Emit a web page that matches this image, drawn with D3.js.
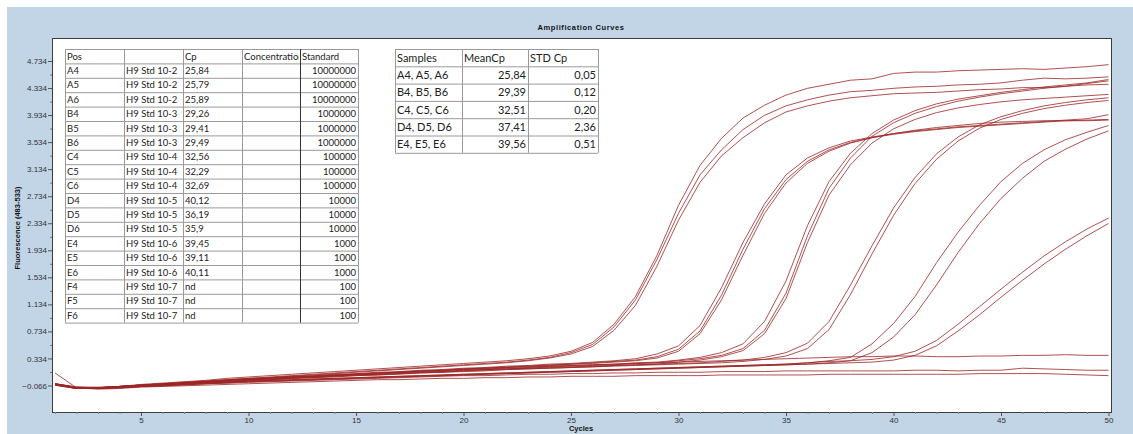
<!DOCTYPE html>
<html>
<head>
<meta charset="utf-8">
<script src="https://cdn.jsdelivr.net/npm/d3@7"></script>
<style>
  body { margin: 0; background: #ffffff; }
  svg { display: block; }
</style>
</head>
<body>
<svg id="chart" width="1133" height="434"></svg>
<script>
// ---- Data -------------------------------------------------------------
const cycles = d3.range(1, 51);
const xTickValues = [5, 10, 15, 20, 25, 30, 35, 40, 45, 50];
const yTickValues = [-0.066, 0.334, 0.734, 1.134, 1.534, 1.934, 2.334, 2.734, 3.134, 3.534, 3.934, 4.334, 4.734];

// Fluorescence (483-533) per cycle, one array per well
const wellA4 = [-0.04,-0.09,-0.10,-0.08,-0.06,-0.04,-0.02,0.00,0.02,0.04, 0.06,0.08,0.10,0.12,0.14,0.16,0.18,0.20,0.22,0.24, 0.26,0.28,0.31,0.35,0.42,0.54,0.80,1.20,1.80,2.48, 3.05,3.42,3.72,3.93,4.07,4.16,4.23,4.28,4.30,4.33, 4.35,4.36,4.38,4.39,4.41,4.45,4.48,4.47,4.48,4.50];
const wellA5 = [-0.05,-0.10,-0.10,-0.08,-0.05,-0.03,-0.01,0.01,0.04,0.06, 0.08,0.10,0.12,0.14,0.16,0.18,0.20,0.22,0.24,0.26, 0.28,0.30,0.33,0.37,0.44,0.57,0.84,1.25,1.86,2.60, 3.19,3.59,3.89,4.08,4.23,4.33,4.39,4.45,4.47,4.55, 4.57,4.57,4.59,4.60,4.61,4.62,4.61,4.63,4.65,4.68];
const wellA6 = [-0.05,-0.10,-0.11,-0.09,-0.07,-0.05,-0.03,-0.01,0.01,0.03, 0.05,0.07,0.09,0.11,0.13,0.15,0.17,0.19,0.21,0.23, 0.25,0.27,0.30,0.34,0.40,0.51,0.75,1.12,1.70,2.38, 2.94,3.33,3.60,3.82,3.98,4.07,4.14,4.19,4.22,4.25, 4.26,4.27,4.29,4.31,4.32,4.34,4.34,4.36,4.38,4.39];
const wellB4 = [-0.04,-0.09,-0.09,-0.08,-0.06,-0.04,-0.02,0.00,0.02,0.04, 0.05,0.07,0.08,0.10,0.11,0.13,0.14,0.16,0.17,0.19, 0.20,0.22,0.23,0.25,0.26,0.28,0.30,0.33,0.40,0.52, 0.82,1.38,2.05,2.62,3.05,3.30,3.45,3.55,3.61,3.66, 3.70,3.73,3.76,3.78,3.80,3.82,3.84,3.86,3.88,3.94];
const wellB5 = [-0.05,-0.10,-0.10,-0.08,-0.06,-0.05,-0.03,-0.01,0.01,0.03, 0.04,0.06,0.07,0.09,0.10,0.12,0.13,0.15,0.16,0.18, 0.19,0.21,0.22,0.24,0.25,0.27,0.29,0.31,0.36,0.47, 0.74,1.27,1.95,2.55,2.98,3.25,3.42,3.53,3.60,3.65, 3.69,3.72,3.75,3.77,3.79,3.81,3.83,3.85,3.86,3.87];
const wellB6 = [-0.04,-0.10,-0.10,-0.09,-0.07,-0.05,-0.03,-0.01,0.01,0.02, 0.04,0.05,0.07,0.08,0.10,0.11,0.13,0.14,0.16,0.17, 0.19,0.20,0.22,0.23,0.25,0.26,0.28,0.30,0.34,0.44, 0.70,1.20,1.86,2.48,2.93,3.22,3.40,3.52,3.60,3.66, 3.71,3.75,3.78,3.81,3.83,3.84,3.85,3.85,3.85,3.86];
const wellC4 = [-0.05,-0.10,-0.10,-0.08,-0.06,-0.05,-0.03,-0.02,0.00,0.02, 0.03,0.05,0.06,0.08,0.09,0.10,0.12,0.13,0.14,0.16, 0.17,0.18,0.19,0.21,0.22,0.23,0.24,0.26,0.27,0.30, 0.33,0.38,0.48,0.75,1.30,2.15,2.85,3.30,3.62,3.82, 3.96,4.06,4.14,4.20,4.25,4.29,4.33,4.36,4.40,4.44];
const wellC5 = [-0.04,-0.09,-0.10,-0.08,-0.06,-0.04,-0.03,-0.01,0.01,0.03, 0.04,0.06,0.07,0.09,0.10,0.11,0.13,0.14,0.15,0.17, 0.18,0.19,0.20,0.22,0.23,0.24,0.25,0.27,0.28,0.31, 0.35,0.42,0.55,0.88,1.48,2.30,2.95,3.37,3.66,3.86, 4.00,4.10,4.17,4.22,4.27,4.31,4.35,4.38,4.41,4.46];
const wellC6 = [-0.05,-0.11,-0.11,-0.09,-0.07,-0.05,-0.04,-0.02,-0.01,0.01, 0.02,0.04,0.05,0.06,0.08,0.09,0.10,0.12,0.13,0.14, 0.15,0.17,0.18,0.19,0.20,0.21,0.23,0.24,0.25,0.28, 0.31,0.36,0.45,0.70,1.22,2.05,2.75,3.20,3.52,3.73, 3.87,3.97,4.04,4.09,4.13,4.16,4.18,4.20,4.22,4.24];
const wellD4 = [-0.06,-0.11,-0.11,-0.10,-0.08,-0.07,-0.05,-0.04,-0.03,-0.01, 0.00,0.01,0.02,0.03,0.04,0.05,0.06,0.07,0.08,0.09, 0.10,0.11,0.12,0.13,0.14,0.15,0.16,0.17,0.18,0.19, 0.20,0.21,0.22,0.23,0.24,0.25,0.26,0.27,0.28,0.31, 0.38,0.52,0.74,0.98,1.24,1.49,1.73,1.95,2.15,2.33];
const wellD5 = [-0.05,-0.10,-0.10,-0.09,-0.07,-0.06,-0.04,-0.02,-0.01,0.01, 0.02,0.04,0.05,0.07,0.08,0.09,0.11,0.12,0.13,0.15, 0.16,0.17,0.18,0.19,0.20,0.21,0.22,0.23,0.24,0.25, 0.26,0.27,0.29,0.32,0.37,0.48,0.76,1.28,1.88,2.45, 2.92,3.28,3.55,3.74,3.87,3.96,4.03,4.08,4.12,4.15];
const wellD6 = [-0.04,-0.10,-0.10,-0.08,-0.07,-0.05,-0.03,-0.02,0.00,0.02, 0.03,0.04,0.06,0.07,0.09,0.10,0.11,0.13,0.14,0.15, 0.17,0.18,0.19,0.20,0.21,0.22,0.23,0.24,0.25,0.26, 0.27,0.29,0.31,0.35,0.42,0.56,0.88,1.42,2.00,2.56, 3.01,3.36,3.61,3.79,3.91,4.00,4.07,4.12,4.16,4.19];
const wellE4 = [-0.06,-0.11,-0.11,-0.10,-0.08,-0.07,-0.05,-0.04,-0.02,-0.01, 0.00,0.01,0.02,0.03,0.04,0.05,0.06,0.07,0.08,0.09, 0.10,0.11,0.12,0.13,0.14,0.15,0.16,0.17,0.18,0.19, 0.20,0.21,0.22,0.23,0.24,0.25,0.27,0.30,0.42,0.65, 0.98,1.42,1.90,2.33,2.70,3.00,3.25,3.43,3.58,3.70];
const wellE5 = [-0.05,-0.10,-0.11,-0.09,-0.08,-0.06,-0.05,-0.03,-0.02,0.00, 0.01,0.02,0.03,0.04,0.05,0.06,0.07,0.08,0.09,0.10, 0.11,0.12,0.13,0.14,0.15,0.16,0.17,0.18,0.19,0.20, 0.21,0.22,0.23,0.24,0.25,0.27,0.30,0.35,0.55,0.85, 1.25,1.75,2.20,2.60,2.95,3.22,3.42,3.57,3.68,3.78];
const wellE6 = [-0.05,-0.11,-0.11,-0.09,-0.08,-0.06,-0.05,-0.03,-0.02,0.00, 0.01,0.02,0.03,0.04,0.05,0.06,0.07,0.08,0.09,0.10, 0.11,0.12,0.13,0.14,0.15,0.16,0.17,0.18,0.19,0.20, 0.21,0.22,0.23,0.24,0.25,0.27,0.29,0.30,0.32,0.36, 0.44,0.60,0.84,1.10,1.36,1.61,1.85,2.06,2.25,2.41];
const wellF4 = [-0.05,-0.10,-0.10,-0.09,-0.07,-0.05,-0.03,-0.01,0.01,0.03, 0.04,0.06,0.07,0.09,0.10,0.12,0.13,0.15,0.16,0.18, 0.19,0.20,0.21,0.22,0.23,0.24,0.25,0.26,0.27,0.28, 0.29,0.30,0.31,0.32,0.33,0.34,0.35,0.36,0.36,0.37, 0.37,0.36,0.36,0.37,0.37,0.38,0.38,0.39,0.38,0.38];
const wellF5 = [-0.06,-0.11,-0.11,-0.10,-0.08,-0.07,-0.06,-0.04,-0.03,-0.02, -0.01,0.00,0.01,0.02,0.03,0.04,0.05,0.06,0.07,0.08, 0.08,0.09,0.10,0.10,0.11,0.11,0.12,0.12,0.13,0.13, 0.13,0.14,0.14,0.14,0.15,0.15,0.15,0.15,0.15,0.15, 0.16,0.16,0.15,0.16,0.16,0.19,0.18,0.17,0.16,0.16];
const wellF6 = [0.12,-0.10,-0.12,-0.11,-0.09,-0.08,-0.07,-0.06,-0.05,-0.04, -0.03,-0.02,-0.01,0.00,0.01,0.02,0.02,0.03,0.04,0.04, 0.05,0.05,0.06,0.06,0.07,0.07,0.07,0.08,0.08,0.08, 0.08,0.09,0.09,0.09,0.09,0.09,0.10,0.10,0.10,0.10, 0.10,0.10,0.10,0.11,0.11,0.11,0.11,0.10,0.09,0.08];

const wellCurves = [wellF6, wellF5, wellF4, wellE6, wellE5, wellE4, wellD6, wellD5, wellD4,
                    wellC6, wellC5, wellC4, wellB6, wellB5, wellB4, wellA6, wellA5, wellA4];

// Run table
const tableHeader = ["Pos", "", "Cp", "Concentration", "Standard"];
const tablePos = ["A4","A5","A6","B4","B5","B6","C4","C5","C6","D4","D5","D6","E4","E5","E6","F4","F5","F6"];
const tableName = ["H9 Std 10-2","H9 Std 10-2","H9 Std 10-2","H9 Std 10-3","H9 Std 10-3","H9 Std 10-3","H9 Std 10-4","H9 Std 10-4","H9 Std 10-4","H9 Std 10-5","H9 Std 10-5","H9 Std 10-5","H9 Std 10-6","H9 Std 10-6","H9 Std 10-6","H9 Std 10-7","H9 Std 10-7","H9 Std 10-7"];
const tableCp = ["25,84","25,79","25,89","29,26","29,41","29,49","32,56","32,29","32,69","40,12","36,19","35,9","39,45","39,11","40,11","nd","nd","nd"];
const tableStandard = ["10000000","10000000","10000000","1000000","1000000","1000000","100000","100000","100000","10000","10000","10000","1000","1000","1000","100","100","100"];

// Replicate summary
const summaryHeader = ["Samples", "MeanCp", "STD Cp"];
const summarySamples = ["A4, A5, A6", "B4, B5, B6", "C4, C5, C6", "D4, D5, D6", "E4, E5, E6"];
const summaryMean = ["25,84", "29,39", "32,51", "37,41", "39,56"];
const summaryStd = ["0,05", "0,12", "0,20", "2,36", "0,51"];

// ---- Layout -----------------------------------------------------------
const W = 1133, H = 434;
const frame = { left: 52, top: 38, right: 1111, bottom: 412 };
const svg = d3.select("#chart");

svg.append("rect").attr("x", 7).attr("y", 7).attr("width", W - 7).attr("height", H - 7)
   .attr("fill", "#c2d5e6");

svg.append("rect")
   .attr("x", frame.left + 0.5).attr("y", frame.top + 0.5)
   .attr("width", frame.right - frame.left).attr("height", frame.bottom - frame.top)
   .attr("fill", "#ffffff").attr("stroke", "#3c3c3c").attr("stroke-width", 1);

svg.append("text")
   .attr("x", 581).attr("y", 30)
   .attr("text-anchor", "middle")
   .attr("font-family", "Liberation Sans, Arial, sans-serif")
   .attr("font-size", 7.5).attr("font-weight", "bold")
   .attr("letter-spacing", 0.6)
   .attr("fill", "#111")
   .text("Amplification Curves");

const x = d3.scaleLinear().domain([1, 50]).range([55, 1108.5]);
const y = d3.scaleLinear().domain([-0.066, 4.734]).range([385.5, 61]);

// ---- Axes -------------------------------------------------------------
const tickFont = "Liberation Sans Narrow, Liberation Sans, Arial, sans-serif";

const yAxis = svg.append("g").attr("transform", `translate(${frame.left},0)`)
  .call(d3.axisLeft(y).tickValues(yTickValues).tickSize(4).tickPadding(1)
        .tickFormat(d3.format(".3f")));
yAxis.select(".domain").remove();
yAxis.selectAll("line").attr("stroke", "#555");
yAxis.selectAll("text").attr("font-family", tickFont).attr("font-size", 8).attr("fill", "#333");

const yMinor = svg.append("g").attr("transform", `translate(${frame.left},0)`)
  .call(d3.axisLeft(y).tickValues(yTickValues.slice(0, -1).map(v => v + 0.2)).tickSize(2).tickFormat(""));
yMinor.select(".domain").remove();
yMinor.selectAll("line").attr("stroke", "#777");

const xAxis = svg.append("g").attr("transform", `translate(0,${frame.bottom})`)
  .call(d3.axisBottom(x).tickValues(xTickValues).tickSize(4).tickPadding(1));
xAxis.select(".domain").remove();
xAxis.selectAll("line").attr("stroke", "#555");
xAxis.selectAll("text").attr("font-family", tickFont).attr("font-size", 8).attr("fill", "#333");

const xMinor = svg.append("g").attr("transform", `translate(0,${frame.bottom})`)
  .call(d3.axisBottom(x).tickValues(cycles.filter(c => c % 5 !== 0)).tickSize(2).tickFormat(""));
xMinor.select(".domain").remove();
xMinor.selectAll("line").attr("stroke", "#888");

svg.append("text")
   .attr("x", 581).attr("y", 431).attr("text-anchor", "middle")
   .attr("font-family", "Liberation Sans, Arial, sans-serif")
   .attr("font-size", 7.5).attr("font-weight", "bold").attr("fill", "#111")
   .text("Cycles");

svg.append("text")
   .attr("transform", "translate(20,228) rotate(-90)")
   .attr("text-anchor", "middle")
   .attr("font-family", "Liberation Sans, Arial, sans-serif")
   .attr("font-size", 7.5).attr("font-weight", "bold").attr("fill", "#111")
   .text("Fluorescence (483-533)");

// ---- Curves -----------------------------------------------------------
svg.append("clipPath").attr("id", "plotClip").append("rect")
   .attr("x", frame.left + 1).attr("y", frame.top + 1)
   .attr("width", frame.right - frame.left - 1).attr("height", frame.bottom - frame.top - 1);

const line = d3.line().x((d, i) => x(cycles[i])).y(d => y(d));

svg.append("g").attr("clip-path", "url(#plotClip)")
  .selectAll("path").data(wellCurves).join("path")
  .attr("d", line)
  .attr("fill", "none")
  .attr("stroke", "#9c2626")
  .attr("stroke-opacity", 0.8)
  .attr("stroke-width", 1);

// ---- Tables -----------------------------------------------------------
function drawTable(g, cols, rows, rowH, fontSize, align, darkCols) {
  const top = 0;
  const tableW = cols[cols.length - 1] - cols[0];
  g.append("rect").attr("x", cols[0]).attr("y", top)
   .attr("width", tableW).attr("height", rows.length * rowH).attr("fill", "#fff");
  rows.forEach((row, r) => {
    row.forEach((txt, c) => {
      const x0 = cols[c], x1 = cols[c + 1];
      const clipId = `clip-${g.attr("id")}-${r}-${c}`;
      g.append("clipPath").attr("id", clipId).append("rect")
        .attr("x", x0).attr("y", top + r * rowH).attr("width", x1 - x0 - 1).attr("height", rowH);
      const right = align[c] === "right" && r > 0;
      g.append("text")
        .attr("clip-path", `url(#${clipId})`)
        .attr("x", right ? x1 - 2 : x0 + 2)
        .attr("y", top + r * rowH + rowH * 0.5 + fontSize * 0.36)
        .attr("text-anchor", right ? "end" : "start")
        .attr("font-family", "Lato, Carlito, sans-serif")
        .attr("font-size", fontSize).attr("fill", "#222")
        .text(txt);
    });
  });
  // grid lines
  d3.range(rows.length + 1).forEach(r => {
    g.append("line").attr("x1", cols[0]).attr("x2", cols[cols.length - 1])
      .attr("y1", top + r * rowH + 0.5).attr("y2", top + r * rowH + 0.5)
      .attr("stroke", "#9a9a9a").attr("stroke-width", 1);
  });
  cols.forEach((cx, i) => {
    g.append("line").attr("x1", cx + 0.5).attr("x2", cx + 0.5)
      .attr("y1", top).attr("y2", top + rows.length * rowH)
      .attr("stroke", darkCols.includes(i) ? "#333" : "#9a9a9a").attr("stroke-width", 1);
  });
}

const runRows = [tableHeader].concat(tablePos.map((p, i) => [p, tableName[i], tableCp[i], "", tableStandard[i]]));
const runTable = svg.append("g").attr("id", "run").attr("transform", "translate(0,49)");
drawTable(runTable, [65, 124, 183, 242, 300, 358], runRows, 14.4, 9.5,
          ["left", "left", "left", "left", "right"], [4]);

const sumRows = [summaryHeader].concat(summarySamples.map((s, i) => [s, summaryMean[i], summaryStd[i]]));
const sumTable = svg.append("g").attr("id", "summary").attr("transform", "translate(0,49)");
drawTable(sumTable, [395, 462, 528, 598], sumRows, 17.3, 11,
          ["left", "right", "right"], []);
</script>
</body>
</html>
